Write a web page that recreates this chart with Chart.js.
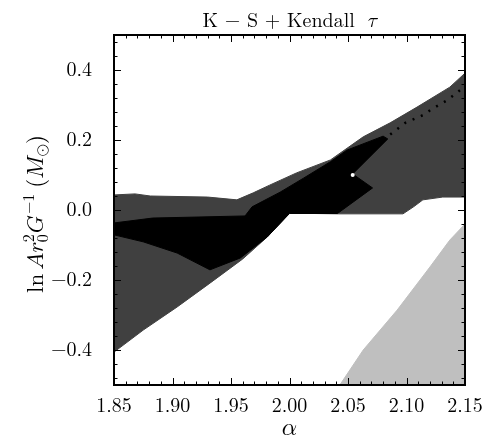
<!DOCTYPE html>
<html>
<head>
<meta charset="utf-8">
<script src="https://cdn.jsdelivr.net/npm/chart.js@4"></script>
<style>
  html, body { margin: 0; padding: 0; background: #fff; }
  #wrap { width: 484px; height: 438px; }
</style>
</head>
<body>
<div id="wrap"><canvas id="chart" width="484" height="438"></canvas></div>
<script>
// region boundaries (alpha, ln A r0^2 G^-1)
const darkX = [1.850, 1.868, 1.881, 1.930, 1.955, 1.969, 1.983, 2.006, 2.035, 2.063, 2.086, 2.109, 2.137, 2.150,
               2.150, 2.131, 2.114, 2.106, 2.097, 2.042, 2.000, 1.981, 1.960, 1.932, 1.904, 1.875, 1.850];
const darkY = [0.043, 0.046, 0.040, 0.037, 0.029, 0.049, 0.071, 0.106, 0.143, 0.209, 0.249, 0.294, 0.351, 0.391,
               0.037, 0.037, 0.029, 0.009, -0.011, -0.011, -0.009, -0.077, -0.140, -0.209, -0.277, -0.343, -0.406];

const blackX = [1.850, 1.883, 1.962, 1.968, 1.992, 2.012, 2.035, 2.049, 2.080, 2.084, 2.054, 2.071, 2.041,
                2.000, 1.981, 1.958, 1.932, 1.904, 1.875, 1.850];
const blackY = [-0.037, -0.023, -0.017, 0.009, 0.051, 0.091, 0.138, 0.171, 0.211, 0.203, 0.103, 0.063, -0.010,
                -0.010, -0.077, -0.137, -0.171, -0.123, -0.091, -0.071];

const lightX = [2.043, 2.063, 2.092, 2.120, 2.137, 2.150, 2.150];
const lightY = [-0.500, -0.400, -0.286, -0.163, -0.086, -0.040, -0.500];

const traceX = [2.080, 2.099, 2.114, 2.123, 2.135, 2.146];
const traceY = [0.200, 0.249, 0.271, 0.291, 0.314, 0.343];

const holeX = [2.054];
const holeY = [0.100];

const xTicks = [1.85, 1.90, 1.95, 2.00, 2.05, 2.10, 2.15];
const yTicks = [-0.4, -0.2, 0.0, 0.2, 0.4];

const ROMAN = '"Latin Modern Roman", "Liberation Serif", serif';
const MATH = '"Latin Modern Math", "Latin Modern Roman", serif';

function points(xs, ys, close) {
  const p = xs.map((x, i) => ({ x, y: ys[i] }));
  if (close) p.push({ x: xs[0], y: ys[0] });
  return p;
}

function region(xs, ys, color, order) {
  return {
    data: points(xs, ys, true),
    borderColor: color,
    backgroundColor: color,
    borderWidth: 1,
    fill: 'shape',
    pointRadius: 0,
    tension: 0,
    order
  };
}

// draws a run of text pieces; pieces with keep:true do not advance the pen
function drawRun(ctx, parts, cx, cy) {
  const widths = parts.map(p => { ctx.font = p.f; return ctx.measureText(p.s).width; });
  let total = 0;
  parts.forEach((p, i) => { if (!p.keep) total += widths[i] + (p.gap || 0); });
  let x = cx - total / 2;
  parts.forEach((p, i) => {
    ctx.font = p.f;
    ctx.fillText(p.s, x, cy + (p.dy || 0));
    if (!p.keep) x += widths[i] + (p.gap || 0);
  });
}

// frame, inward ticks on all four sides, title and axis labels
const decor = {
  id: 'decor',
  afterDraw(chart) {
    const { ctx, chartArea: a, scales } = chart;
    const xs = scales.x, ys = scales.y;
    ctx.save();
    ctx.strokeStyle = '#000';
    ctx.lineWidth = 1;
    ctx.beginPath();
    for (let i = 0; i <= 30; i++) {
      const v = 1.85 + i * 0.01;
      const px = Math.round(xs.getPixelForValue(v)) + 0.5;
      const len = i % 5 === 0 ? 7 : 3.5;
      ctx.moveTo(px, a.bottom); ctx.lineTo(px, a.bottom - len);
      ctx.moveTo(px, a.top); ctx.lineTo(px, a.top + len);
    }
    for (let i = -12; i <= 12; i++) {
      const v = i * 0.04;
      const py = Math.round(ys.getPixelForValue(v)) + 0.5;
      const len = i % 5 === 0 ? 7 : 3.5;
      ctx.moveTo(a.left, py); ctx.lineTo(a.left + len, py);
      ctx.moveTo(a.right, py); ctx.lineTo(a.right - len, py);
    }
    ctx.stroke();
    ctx.lineWidth = 2;
    ctx.strokeRect(a.left, a.top, a.right - a.left, a.bottom - a.top);

    ctx.fillStyle = '#000';
    ctx.textBaseline = 'alphabetic';
    ctx.textAlign = 'left';
    const mid = (a.left + a.right) / 2;

    // title
    drawRun(ctx, [
      { s: 'K − S + Kendall', f: '20px ' + ROMAN, gap: 13 },
      { s: '𝜏', f: '20px ' + MATH }
    ], mid, 27);

    // x label
    drawRun(ctx, [{ s: '𝛼', f: '24px ' + MATH }], mid, 435);

    // y label, rotated
    ctx.translate(43, 214);
    ctx.rotate(-Math.PI / 2);
    const big = '23px ' + ROMAN, bigM = '23px ' + MATH, sm = '16px ' + ROMAN, smM = '16px ' + MATH;
    drawRun(ctx, [
      { s: 'ln', f: big, gap: 4 },
      { s: '𝐴𝑟', f: bigM },
      { s: '2', f: sm, dy: -9, keep: true },
      { s: '0', f: sm, dy: 5, gap: 1 },
      { s: '𝐺', f: bigM, gap: 1 },
      { s: '−1', f: sm, dy: -9, gap: 6 },
      { s: '(', f: big },
      { s: '𝑀', f: bigM },
      { s: '⊙', f: smM, dy: 4 },
      { s: ')', f: big }
    ], 0, 0);
    ctx.restore();
  }
};

new Chart(document.getElementById('chart'), {
  type: 'line',
  data: {
    datasets: [
      {
        data: points(holeX, holeY, false),
        showLine: false,
        pointRadius: 2,
        pointBackgroundColor: '#fff',
        pointBorderWidth: 0,
        order: 0
      },
      {
        data: points(traceX, traceY, false),
        borderColor: '#000',
        borderWidth: 2.5,
        borderDash: [2, 7],
        pointRadius: 0,
        fill: false,
        order: 1
      },
      region(blackX, blackY, '#000000', 2),
      region(darkX, darkY, '#404040', 3),
      region(lightX, lightY, '#bfbfbf', 4)
    ]
  },
  options: {
    responsive: false,
    animation: false,
    events: [],
    layout: { padding: { top: 35, right: 19, left: 0, bottom: 0 } },
    plugins: { legend: { display: false }, tooltip: { enabled: false }, title: { display: false } },
    scales: {
      x: {
        type: 'linear',
        min: 1.85,
        max: 2.15,
        afterFit(s) { s.height = 53; },
        afterBuildTicks(s) { s.ticks = xTicks.map(v => ({ value: v })); },
        grid: { display: false },
        border: { display: false },
        ticks: {
          padding: 1,
          color: '#000',
          font: { family: ROMAN, size: 20 },
          callback: v => v.toFixed(2)
        }
      },
      y: {
        type: 'linear',
        min: -0.5,
        max: 0.5,
        afterFit(s) { s.width = 114; },
        afterBuildTicks(s) { s.ticks = yTicks.map(v => ({ value: v })); },
        grid: { display: false },
        border: { display: false },
        ticks: {
          padding: 14,
          color: '#000',
          font: { family: ROMAN, size: 20 },
          callback: v => (v < 0 ? '−' : '') + Math.abs(v).toFixed(1)
        }
      }
    }
  },
  plugins: [decor]
});
</script>
</body>
</html>
